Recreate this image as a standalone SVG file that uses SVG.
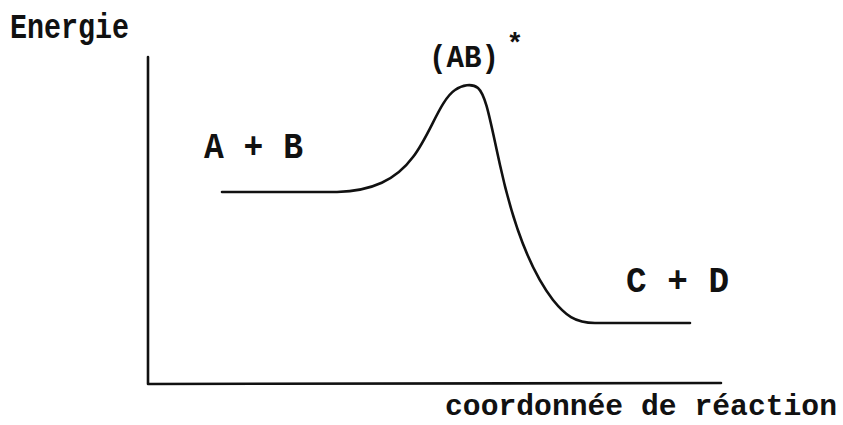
<svg xmlns="http://www.w3.org/2000/svg" width="843" height="425" viewBox="0 0 843 425">
<style>
.t{font-family:"Liberation Mono","DejaVu Sans Mono",monospace;font-weight:bold;fill:#111;}
.ln{fill:none;stroke:#111;stroke-width:2.6;stroke-linecap:round;stroke-linejoin:round;}
</style>
<rect width="843" height="425" fill="#fff"/>
<g id="axes">
<path class="ln" d="M148 57 L148 384 L721 383"/>
</g>
<g id="connectors">
<path id="profile" class="ln" d="M222 192 L337 192 C372 191 396 180 413 157 C430 135 440 100 455 90 C462 85 472 83 478 88 C486 95 490 120 500 165 C512 220 530 270 553 300 C565 315 575 323 595 323 L690 323"/>
</g>
<g id="label-energie"><text class="t" x="10" y="38" font-size="35" textLength="119" lengthAdjust="spacingAndGlyphs">Energie</text></g>
<g id="label-axis-x"><text class="t" x="445" y="415" font-size="30" textLength="392" lengthAdjust="spacingAndGlyphs">coordonnée de réaction</text></g>
<g id="node-AB"><text class="t" x="204" y="158" font-size="37" textLength="99" lengthAdjust="spacingAndGlyphs">A + B</text></g>
<g id="node-TS"><text class="t" x="429" y="67" font-size="31" textLength="70" lengthAdjust="spacingAndGlyphs">(AB)</text><text class="t" x="515" y="52" font-size="28" text-anchor="middle">*</text></g>
<g id="node-CD"><text class="t" x="626" y="292" font-size="37" textLength="103" lengthAdjust="spacingAndGlyphs">C + D</text></g>
</svg>
